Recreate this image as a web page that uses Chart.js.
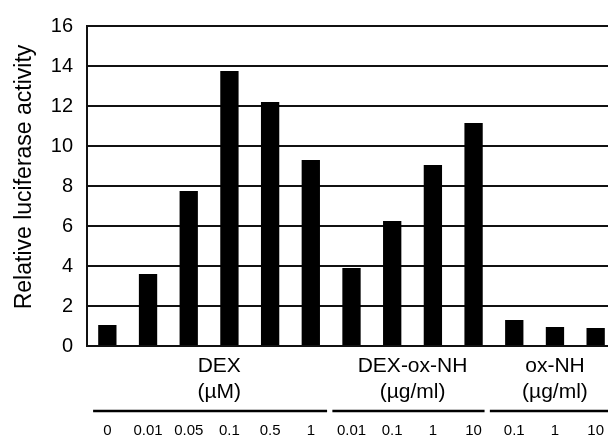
<!DOCTYPE html>
<html>
<head>
<meta charset="utf-8">
<script src="https://cdn.jsdelivr.net/npm/chart.js@4"></script>
<style>
  html, body { margin: 0; padding: 0; background: #fff; overflow: hidden; }
  #wrap { width: 608px; height: 440px; overflow: hidden; }
</style>
</head>
<body>
<div id="wrap"><canvas id="chart" width="616" height="440"></canvas></div>
<script>
// data
const doses = ['0', '0.01', '0.05', '0.1', '0.5', '1', '0.01', '0.1', '1', '10', '0.1', '1', '10'];
const activity = [1.05, 3.6, 7.75, 13.75, 12.2, 9.3, 3.9, 6.25, 9.05, 11.15, 1.3, 0.95, 0.9];
const groupNames = ['DEX', 'DEX-ox-NH', 'ox-NH'];
const groupUnits = ['(\u00b5M)', '(\u00b5g/ml)', '(\u00b5g/ml)'];
const groupRanges = [[0, 5], [6, 9], [10, 12]];
const yTicks = [0, 2, 4, 6, 8, 10, 12, 14, 16];
const yTitle = 'Relative luciferase activity';

const FONT = '"Liberation Sans", Arial, Helvetica, sans-serif';

// group captions + underline between the axis and the dose labels, and the y title
const groupPlugin = {
  id: 'groups',
  afterDraw(chart) {
    const ctx = chart.ctx;
    const x = chart.scales.x;
    const shift = [0.25, 0, 0];
    const lineFrom = [-0.35, 5.53, 9.4];
    const lineTo = [5.4, 9.27, 13];
    ctx.save();
    ctx.fillStyle = '#000';
    ctx.strokeStyle = '#000';
    ctx.font = '21px ' + FONT;
    ctx.textAlign = 'center';
    ctx.textBaseline = 'middle';
    groupRanges.forEach((r, i) => {
      const mid = x.getPixelForValue((r[0] + r[1]) / 2 + shift[i]);
      ctx.fillText(groupNames[i], mid, 366);
      ctx.fillText(groupUnits[i], mid, 392);
      ctx.lineWidth = 2.5;
      ctx.beginPath();
      ctx.moveTo(x.getPixelForValue(lineFrom[i]), 411);
      ctx.lineTo(x.getPixelForValue(lineTo[i]), 411);
      ctx.stroke();
    });
    // y axis title
    ctx.font = '23px ' + FONT;
    ctx.translate(25, 177);
    ctx.rotate(-Math.PI / 2);
    ctx.fillText(yTitle, 0, 0);
    ctx.restore();
  }
};

new Chart(document.getElementById('chart'), {
  type: 'bar',
  data: {
    labels: doses,
    datasets: [{
      data: activity,
      backgroundColor: '#000',
      borderWidth: 0,
      categoryPercentage: 1,
      barPercentage: 0.45
    }]
  },
  options: {
    responsive: false,
    animation: false,
    layout: { padding: { top: 23, left: 0, right: 0, bottom: 0 } },
    plugins: { legend: { display: false }, tooltip: { enabled: false } },
    scales: {
      x: {
        grid: { display: false, drawTicks: false },
        border: { display: false },
        ticks: {
          color: '#000',
          font: { family: FONT, size: 15 },
          padding: 76,
          maxRotation: 0,
          autoSkip: false
        },
        afterFit(s) {
          s.height = 94;
          s.paddingLeft = 0;
          s.paddingRight = 0;
        }
      },
      y: {
        min: 0,
        max: 16,
        afterBuildTicks(s) { s.ticks = yTicks.map(v => ({ value: v })); },
        grid: { color: '#111', lineWidth: 2, drawTicks: false },
        border: { display: true, color: '#111', width: 2 },
        ticks: {
          color: '#000',
          font: { family: FONT, size: 20 },
          padding: 14
        },
        afterFit(s) { s.width = 87; }
      }
    }
  },
  plugins: [groupPlugin]
});
</script>
</body>
</html>
